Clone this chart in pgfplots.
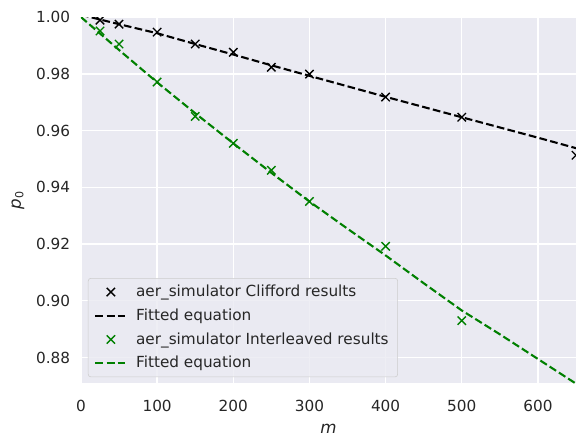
\documentclass[border=0pt]{standalone}
\usepackage{fontspec}
\setmainfont{DejaVu Sans}
\usepackage{pgfplots}
\pgfplotsset{compat=1.18}
\definecolor{bg}{HTML}{EAEAF2}
\definecolor{txt}{HTML}{262626}
\definecolor{mplgreen}{HTML}{008000}
\definecolor{legedge}{HTML}{CCCCCC}
\begin{document}
\begin{tikzpicture}
\path[use as bounding box] (-58.3pt,-46.1pt) rectangle (363.6pt,275.8pt);
\begin{axis}[
 scale only axis, width=356.4pt, height=263.5pt,
 xmin=0, xmax=650, ymin=0.871, ymax=1.0,
 axis background/.style={fill=bg},
 axis line style={draw=none},
 grid=major, major grid style={white, line width=1pt},
 tick style={draw=none},
 xtick={0,100,200,300,400,500,600},
 ytick={0.88,0.90,0.92,0.94,0.96,0.98,1.00},
 x tick label style={/pgf/number format/.cd, assume math mode=true, /tikz/.cd, yshift=-8.5pt},
 y tick label style={/pgf/number format/.cd, fixed, fixed zerofill, precision=2, assume math mode=true, /tikz/.cd, xshift=-4.3pt},
 ticklabel style={font=\fontsize{11}{13}\selectfont, text=txt},
 xlabel={\textit{m}}, ylabel={\textit{p}\textsubscript{0}},
 x label style={font=\fontsize{12}{14}\selectfont, text=txt, yshift=-2pt},
 y label style={font=\fontsize{12}{14}\selectfont, text=txt, yshift=1.5pt},
 clip marker paths=true,
 legend style={at={(0.014,0.016)}, anchor=south west, fill=bg, fill opacity=0.8, text opacity=1, draw=legedge, rounded corners=2pt, font=\fontsize{11}{13}\selectfont, text=txt, inner xsep=4.5pt, inner ysep=3pt, row sep=3.2pt, /tikz/every odd column/.style={column sep=4.3pt}},
 legend cell align=left,
 legend image code/.code={\draw[mark repeat=2,mark phase=2,#1] plot coordinates {(0cm,0cm) (0.39cm,0cm) (0.78cm,0cm)};},
]
\addplot[only marks, mark=x, mark size=4.24pt, black, line width=1pt] coordinates {
(25,0.9989) (50,0.9975) (100,0.9947) (150,0.9905) (200,0.9876) (250,0.9823) (300,0.9799) (400,0.9718) (500,0.9647) (650,0.9513)};
\addlegendentry{aer\_simulator Clifford results}
\addplot[black, line width=1.5pt, dash pattern=on 5.55pt off 2.4pt, no marks] coordinates {
(0,1.0008) (50,0.9975) (100,0.9943) (150,0.9905) (200,0.9868) (250,0.9830) (300,0.9793) (350,0.9756) (400,0.9719) (450,0.9683) (500,0.9647) (550,0.9611) (600,0.9575) (650,0.9538)};
\addlegendentry{Fitted equation}
\addplot[only marks, mark=x, mark size=4.24pt, mplgreen, line width=1pt] coordinates {
(25,0.9951) (50,0.9905) (100,0.9771) (150,0.9650) (200,0.9555) (250,0.9460) (300,0.9350) (400,0.9192) (500,0.8930)};
\addlegendentry{aer\_simulator Interleaved results}
\addplot[mplgreen, line width=1.5pt, dash pattern=on 5.55pt off 2.4pt, no marks] coordinates {
(0,1.0000) (50,0.9884) (100,0.9770) (150,0.9661) (200,0.9555) (250,0.9451) (300,0.9350) (350,0.9254) (400,0.9160) (450,0.9062) (500,0.8966) (550,0.8882) (600,0.8795) (650,0.8708)};
\addlegendentry{Fitted equation}
\end{axis}
\end{tikzpicture}
\end{document}
